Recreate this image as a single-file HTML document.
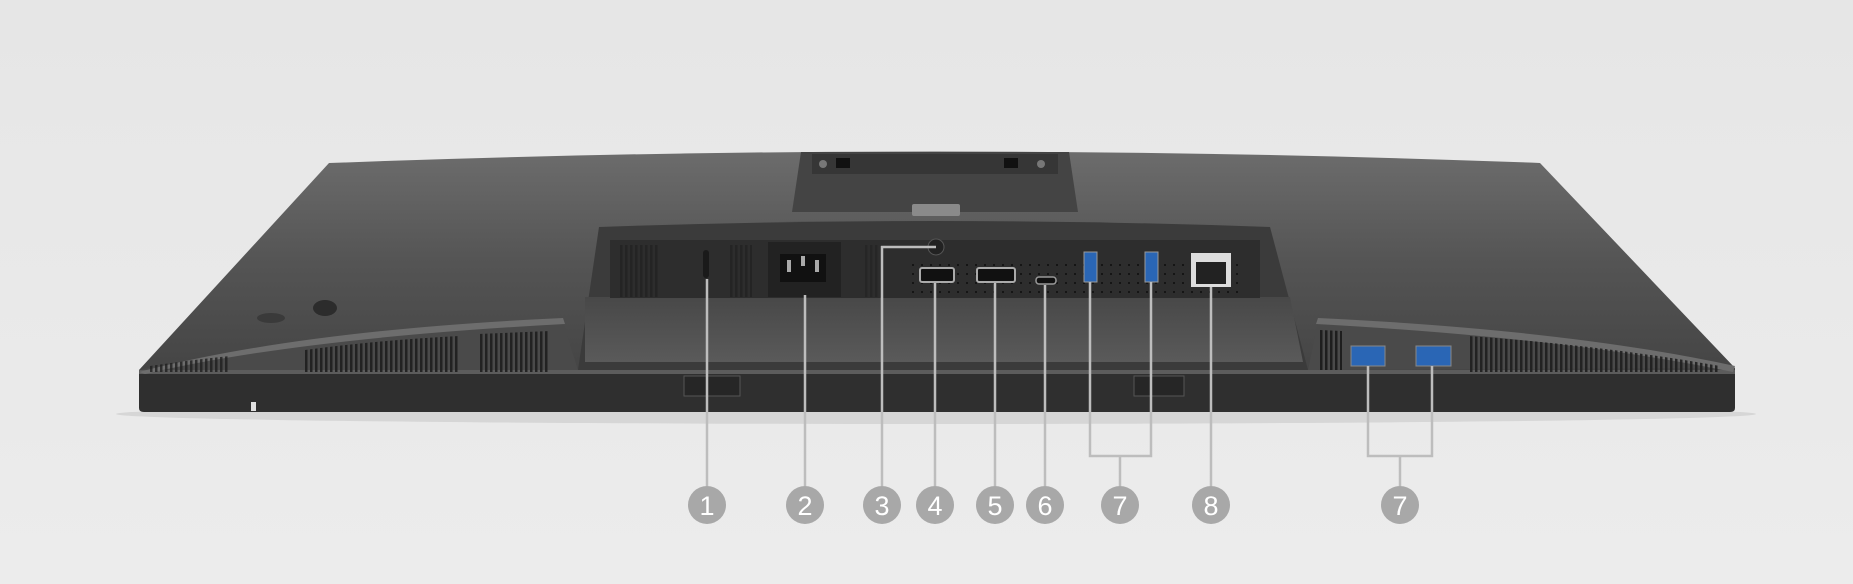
<!DOCTYPE html>
<html><head><meta charset="utf-8"><style>
html,body{margin:0;padding:0;background:#e9e9e9;}
svg{display:block}
</style></head><body>
<svg width="1853" height="584" viewBox="0 0 1853 584" xmlns="http://www.w3.org/2000/svg">
<defs>
<linearGradient id="top" x1="0" y1="0" x2="0" y2="1">
<stop offset="0" stop-color="#6c6c6c"/><stop offset="0.5" stop-color="#545454"/><stop offset="1" stop-color="#444"/>
</linearGradient>
<linearGradient id="floor" x1="0" y1="0" x2="0" y2="1">
<stop offset="0" stop-color="#484848"/><stop offset="1" stop-color="#5a5a5a"/>
</linearGradient>
<linearGradient id="bg" x1="0" y1="0" x2="0" y2="1">
<stop offset="0" stop-color="#e6e6e6"/><stop offset="1" stop-color="#ececec"/>
</linearGradient>
<pattern id="vent" width="5" height="10" patternUnits="userSpaceOnUse"><rect width="2.5" height="10" fill="#1e1e1e"/></pattern>
<pattern id="dots" width="9" height="9" patternUnits="userSpaceOnUse"><rect x="3" y="3" width="2" height="2" fill="#151515"/></pattern>
</defs>
<rect width="1853" height="584" fill="url(#bg)"/>
<ellipse cx="936" cy="414" rx="820" ry="10" fill="#d6d6d6"/>
<path d="M329,163 Q936,140 1540,163 L1735,368 L1735,376 L139,376 L139,370 Z" fill="url(#top)"/>
<path d="M139,372 L1735,372 L1735,408 Q1735,412 1730,412 L144,412 Q139,412 139,408 Z" fill="#2f2f2f"/>
<rect x="139" y="370" width="1596" height="4" fill="#5c5c5c"/>
<rect x="251" y="402" width="5" height="9" fill="#e0e0e0"/>
<path d="M139,370 Q300,335 563,322 L578,370 Z" fill="#4a4a4a"/>
<path d="M139,372 Q300,330 563,318 L565,324 Q300,338 145,374 Z" fill="#6d6d6d"/>
<path d="M1308,370 L1318,322 Q1570,335 1735,368 Z" fill="#4a4a4a"/>
<path d="M1318,318 Q1570,330 1735,366 L1733,372 Q1570,338 1316,324 Z" fill="#6d6d6d"/>
<path d="M305,350 Q380,340 459,336 L459,372 L305,372 Z" fill="url(#vent)" opacity="0.9"/>
<path d="M478,334 L550,331 L550,372 L478,372 Z" fill="url(#vent)" opacity="0.9"/>
<path d="M150,366 Q190,360 230,356 L230,372 L150,372 Z" fill="url(#vent)" opacity="0.8"/>
<path d="M1320,330 L1342,331 L1342,370 L1320,370 Z" fill="url(#vent)"/>
<path d="M1468,336 Q1600,345 1720,366 L1720,372 L1468,372 Z" fill="url(#vent)" opacity="0.9"/>
<ellipse cx="271" cy="318" rx="14" ry="5" fill="#3a3a3a"/>
<ellipse cx="325" cy="308" rx="12" ry="8" fill="#2c2c2c"/>
<path d="M801,152 L1069,152 L1078,212 L792,212 Z" fill="#444"/>
<rect x="812" y="154" width="246" height="20" fill="#363636"/>
<rect x="836" y="158" width="14" height="10" fill="#111"/>
<rect x="1004" y="158" width="14" height="10" fill="#111"/>
<circle cx="823" cy="164" r="4" fill="#777"/><circle cx="1041" cy="164" r="4" fill="#777"/>
<rect x="912" y="204" width="48" height="12" rx="2" fill="#8a8a8a"/>
<path d="M599,227 Q936,215 1270,227 L1308,370 L578,370 Z" fill="#3b3b3b"/>
<path d="M585,297 L1290,297 L1303,362 L585,362 Z" fill="url(#floor)"/>
<rect x="610" y="240" width="650" height="58" fill="#2d2d2d"/>
<rect x="905" y="260" width="335" height="36" fill="url(#dots)"/>
<rect x="620" y="245" width="40" height="52" fill="url(#vent)" opacity="0.6"/>
<rect x="728" y="245" width="24" height="52" fill="url(#vent)" opacity="0.6"/>
<rect x="863" y="245" width="20" height="52" fill="url(#vent)" opacity="0.5"/>
<rect x="703" y="250" width="6" height="28" rx="3" fill="#1a1a1a"/>
<rect x="768" y="242" width="73" height="55" fill="#222"/>
<rect x="780" y="254" width="46" height="28" fill="#111"/>
<rect x="787" y="260" width="4" height="12" fill="#aaa"/><rect x="815" y="260" width="4" height="12" fill="#aaa"/><rect x="801" y="256" width="4" height="10" fill="#aaa"/>
<circle cx="936" cy="247" r="8" fill="#222" stroke="#555"/>
<rect x="920" y="268" width="34" height="14" rx="2" fill="#111" stroke="#aaa" stroke-width="2"/>
<rect x="977" y="268" width="38" height="14" rx="2" fill="#111" stroke="#aaa" stroke-width="2"/>
<rect x="1036" y="277" width="20" height="7" rx="3" fill="#111" stroke="#999" stroke-width="1.5"/>
<rect x="1084" y="252" width="13" height="30" fill="#2a66b5" stroke="#999"/>
<rect x="1145" y="252" width="13" height="30" fill="#2a66b5" stroke="#999"/>
<rect x="1191" y="253" width="40" height="34" fill="#ddd"/>
<rect x="1196" y="262" width="30" height="22" fill="#222"/>
<rect x="1351" y="346" width="34" height="20" fill="#2a66b5" stroke="#888"/>
<rect x="1416" y="346" width="35" height="20" fill="#2a66b5" stroke="#888"/>
<rect x="684" y="376" width="56" height="20" fill="#262626" stroke="#555"/>
<rect x="1134" y="376" width="50" height="20" fill="#262626" stroke="#555"/>
<g stroke="#bdbdbd" stroke-width="2.5" fill="none">
<path d="M707,279 V486"/>
<path d="M805,295 V486"/>
<path d="M936,247 H882 V486"/>
<path d="M935,283 V486"/>
<path d="M995,283 V486"/>
<path d="M1045,285 V486"/>
<path d="M1090,282 V456 H1151 V282 M1120,456 V486"/>
<path d="M1211,287 V486"/>
<path d="M1368,366 V456 H1432 V366 M1400,456 V486"/>
</g>
<g fill="#a8a8a8" font-family="Liberation Sans, sans-serif" font-size="27" text-anchor="middle">
<circle cx="707" cy="505" r="19"/><circle cx="805" cy="505" r="19"/><circle cx="882" cy="505" r="19"/>
<circle cx="935" cy="505" r="19"/><circle cx="995" cy="505" r="19"/><circle cx="1045" cy="505" r="19"/>
<circle cx="1120" cy="505" r="19"/><circle cx="1211" cy="505" r="19"/><circle cx="1400" cy="505" r="19"/>
<g fill="#fff">
<text x="707" y="515">1</text><text x="805" y="515">2</text><text x="882" y="515">3</text>
<text x="935" y="515">4</text><text x="995" y="515">5</text><text x="1045" y="515">6</text>
<text x="1120" y="515">7</text><text x="1211" y="515">8</text><text x="1400" y="515">7</text>
</g></g>
</svg>
</body></html>
